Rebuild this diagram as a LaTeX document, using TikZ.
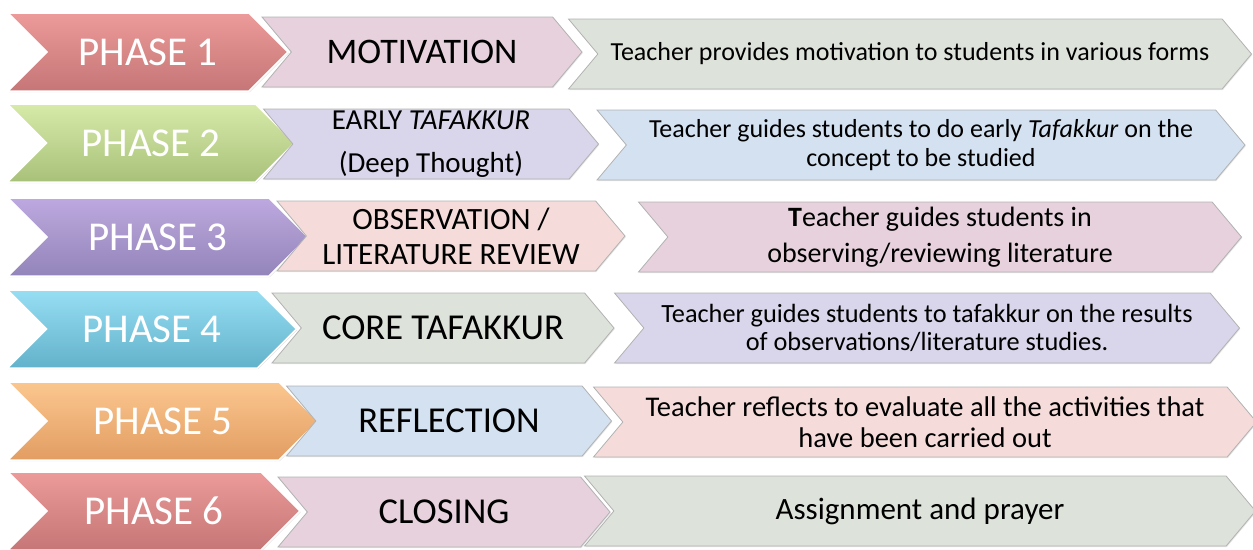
\documentclass[tikz,border=0pt]{standalone}
\usepackage{fontspec}
\setmainfont{Carlito}
\usepackage{xcolor}
\usetikzlibrary{shapes.symbols, shadows}
\definecolor{redtop}{HTML}{EC9A9A}
\definecolor{redbot}{HTML}{C67676}
\definecolor{greentop}{HTML}{D7EAA9}
\definecolor{greenbot}{HTML}{A8C17A}
\definecolor{purpletop}{HTML}{BDA9DF}
\definecolor{purplebot}{HTML}{9384B9}
\definecolor{cyantop}{HTML}{97DEF3}
\definecolor{cyanbot}{HTML}{62B2CB}
\definecolor{orangetop}{HTML}{FBC78F}
\definecolor{orangebot}{HTML}{E29D62}
\definecolor{rosefill}{HTML}{E6D1DC}
\definecolor{lavfill}{HTML}{D9D5EA}
\definecolor{peachfill}{HTML}{F5DCDA}
\definecolor{sagefill}{HTML}{DDE3DA}
\definecolor{skyfill}{HTML}{D3E1F1}
\tikzstyle{phase} = [signal, signal from=west, signal to=east, signal pointer angle=90, minimum height=78pt, inner sep=0pt, draw=white, line width=1.5pt, text=white, font=\fontsize{41}{45}\selectfont, drop shadow={shadow xshift=0.8pt, shadow yshift=-1pt, opacity=0.25}]
\tikzstyle{stage} = [signal, signal from=west, signal to=east, signal pointer angle=100, minimum height=70pt, inner sep=0pt, draw=black!30, line width=0.8pt, align=center, drop shadow={shadow xshift=0.8pt, shadow yshift=-1pt, opacity=0.2}]
\tikzstyle{task} = [stage]

\begin{document}
\begin{tikzpicture}[x=1pt, y=-1pt]
\useasboundingbox (0,0) rectangle (1253,549);

% Phase 1
\node (ph1) [phase, minimum width=280pt, top color=redtop, bottom color=redbot] at (148,52) {PHASE 1};
\node (mid1) [stage, minimum width=320pt, fill=rosefill, font=\fontsize{36}{40}\selectfont] at (422,52) {MOTIVATION};
\node (task1) [task, minimum width=683pt, fill=sagefill, font=\fontsize{26}{30}\selectfont] at (910,54) {Teacher provides motivation to students in various forms};

% Phase 2
\node (ph2) [phase, minimum width=287pt, top color=greentop, bottom color=greenbot] at (151,143) {PHASE 2};
\node (mid2) [stage, minimum width=335pt, fill=lavfill, font=\fontsize{29}{43}\selectfont] at (431,144) {EARLY \textit{TAFAKKUR}\\(Deep Thought)};
\node (task2) [task, minimum width=648pt, fill=skyfill, font=\fontsize{26}{29}\selectfont] at (921,145) {Teacher guides students to do early \textit{Tafakkur} on the\\concept to be studied};

% Phase 3
\node (ph3) [phase, minimum width=300pt, top color=purpletop, bottom color=purplebot] at (158,237) {PHASE 3};
\node (mid3) [stage, minimum width=348pt, fill=peachfill, font=\fontsize{31}{35}\selectfont] at (451,236) {OBSERVATION /\\LITERATURE REVIEW};
\node (task3) [task, minimum width=603pt, fill=rosefill, font=\fontsize{28}{36}\selectfont] at (940,237) {\textbf{T}eacher guides students in\\observing/reviewing literature};

% Phase 4
\node (ph4) [phase, minimum width=289pt, top color=cyantop, bottom color=cyanbot] at (152,329) {PHASE 4};
\node (mid4) [stage, minimum width=342pt, fill=sagefill, font=\fontsize{36.5}{40}\selectfont] at (443,328) {CORE TAFAKKUR};
\node (task4) [task, minimum width=625pt, fill=lavfill, font=\fontsize{26.3}{28}\selectfont] at (927,328) {Teacher guides students to tafakkur on the results\\of observations/literature studies.};

% Phase 5
\node (ph5) [phase, minimum width=310pt, top color=orangetop, bottom color=orangebot] at (163,421) {PHASE 5};
\node (mid5) [stage, minimum width=325pt, fill=skyfill, font=\fontsize{36.5}{40}\selectfont] at (449,421) {REFLECTION};
\node (task5) [task, minimum width=663pt, fill=peachfill, font=\fontsize{28.5}{31}\selectfont] at (925,422) {Teacher reflects to evaluate all the activities that\\have been carried out};

% Phase 6
\node (ph6) [phase, minimum width=292pt, top color=redtop, bottom color=redbot] at (154,511) {PHASE 6};
\node (mid6) [stage, minimum width=332pt, fill=rosefill, font=\fontsize{36.5}{40}\selectfont] at (444,512) {CLOSING};
\node (task6) [task, minimum width=671pt, fill=sagefill, font=\fontsize{31}{34}\selectfont] at (920,511) {Assignment and prayer};

\end{tikzpicture}
\end{document}
